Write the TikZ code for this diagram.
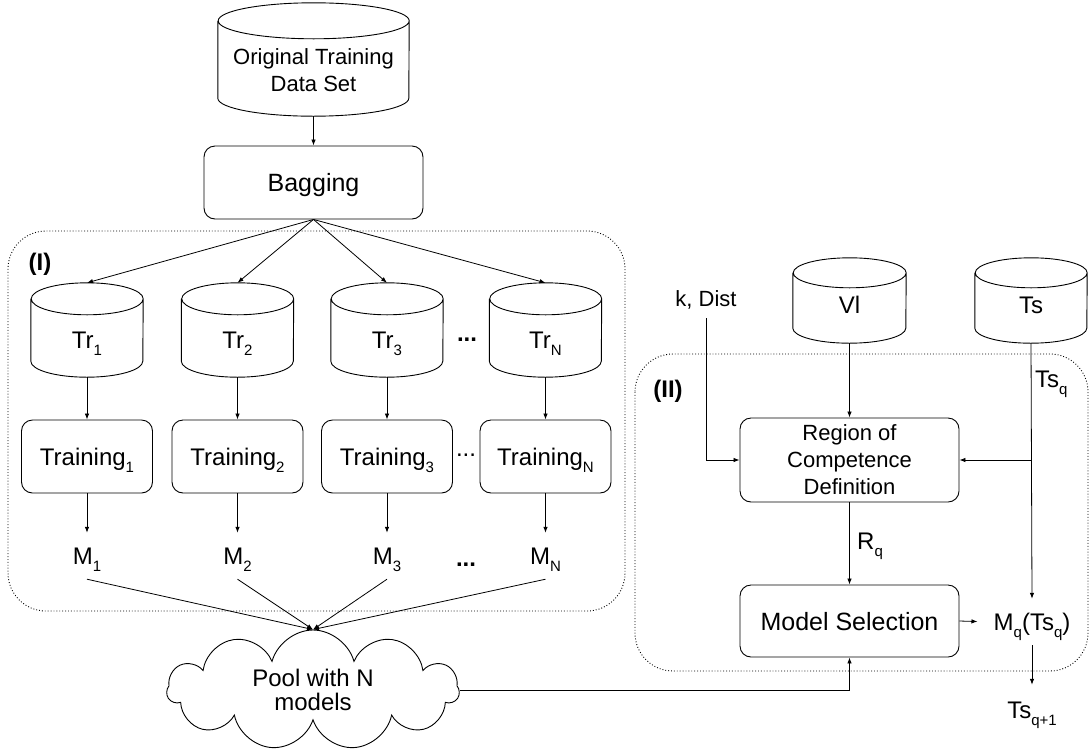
\documentclass[tikz,border=0pt]{standalone}
\usepackage{fontspec}
\setmainfont{Liberation Sans}
\usetikzlibrary{shapes.symbols,arrows.meta}

\newcommand{\lowidx}[1]{\raisebox{-7pt}{\fontsize{15}{15}\selectfont #1}}
\newcommand{\dbshape}[3]{%
	\draw [line width=0.9pt] ([yshift=-#3]#1.north west) -- ([yshift=#3]#1.south west)
		arc [start angle=180, end angle=360, x radius=#2, y radius=#3]
		-- ([yshift=-#3]#1.north east)
		arc [start angle=0, end angle=360, x radius=#2, y radius=#3];
}

\begin{document}
\begin{tikzpicture}[
	x=1pt, y=-1pt,
	every node/.style = {font=\fontsize{24}{27}\selectfont, inner sep=0pt,
		text depth=0pt},
	smallfont/.style = {font=\fontsize{22}{27}\selectfont},
	heading/.style = {font=\bfseries\fontsize{24}{28}\selectfont},
	process/.style = {draw, rounded corners=11pt, line width=0.9pt},
	flow/.style = {-{Latex[length=6pt,width=4.5pt]}, line width=0.8pt},
	group/.style = {dotted, line width=0.9pt, rounded corners=38pt},
	label/.style = {minimum height=46pt}
	]
	\useasboundingbox (0,0) rectangle (1089,753);
	
	\draw [group] (8,231) rectangle (625,611);
	\draw [group] (635,354) rectangle (1088,671);
	\node [heading] (groupI) at (40,262) {(I)};
	\node [heading] (groupII) at (668,389) {(II)};
	
	\node [minimum width=191pt, minimum height=113pt, smallfont, align=center,
		text height=63pt] (orig) at (313.5,59.5) {Original Training\\Data Set};
	\dbshape{orig}{95.5pt}{18pt}
	\node [process, font=\fontsize{25}{28}\selectfont, minimum width=219pt,
		minimum height=73pt] (bag) at (313.5,182.5) {Bagging};
	\draw [flow] (orig.south) -- (bag.north);
	
	\foreach \i/\x in {1/87, 2/237.5, 3/387, N/545.5} {
		\node [minimum width=112pt, minimum height=94pt, text height=36pt]
			(tr\i) at (\x,330) {Tr\lowidx{\i}};
		\dbshape{tr\i}{56pt}{16pt}
		\node [process, minimum width=131pt, minimum height=73pt]
			(train\i) at (\x,456.5) {Training\lowidx{\i}};
		\node [label] (m\i) at (\x,556) {M\lowidx{\i}};
		\draw [flow] (bag.south) -- (tr\i.north);
		\draw [flow] (tr\i.south) -- (train\i.north);
		\draw [flow] (train\i.south) -- (m\i.north);
	}
	\node [heading] (dotstr) at (467,340) {...};
	\node (dotstrain) at (466,455) {...};
	\node [heading] (dotsm) at (466,565) {...};
	
	\node [cloud, draw, cloud puffs=11, aspect=2.4, line width=0.9pt,
		minimum width=292pt, minimum height=120pt, align=center,
		font=\fontsize{24}{24}\selectfont] (pool) at (313,690) {Pool with N\\models};
	\foreach \i in {1,2,3,N}
		\draw [flow] (m\i.south) -- (pool.north);
	
	\node [smallfont, minimum height=38pt] (kdist) at (706,299) {k, Dist};
	\node [minimum width=113pt, minimum height=85pt, text height=25pt]
		(vl) at (849.5,300.5) {Vl};
	\dbshape{vl}{56.5pt}{15pt}
	\node [minimum width=112pt, minimum height=85pt, text height=25pt]
		(ts) at (1031,300.5) {Ts};
	\dbshape{ts}{56pt}{15pt}
	\node [process, smallfont, minimum width=219pt, minimum height=84pt,
		align=center] (roc) at (849.5,460) {Region of\\Competence\\Definition};
	\node [process, font=\fontsize{25}{28}\selectfont, minimum width=219pt,
		minimum height=72pt] (ms) at (849.5,621) {Model Selection};
	\node [label] (mq) at (1032,622) {M\lowidx{q}(Ts\lowidx{q})};
	\node [minimum height=50pt] (tsnext) at (1032,710) {Ts\lowidx{q+1}};
	\node [anchor=west] (tsq) at (1035,379) {Ts\lowidx{q}};
	\node [anchor=west] (rq) at (857,541) {R\lowidx{q}};
	
	\draw [flow] (kdist.south) |- (roc.west);
	\draw [flow] (vl.south) -- (roc.north);
	\draw [flow] (ts.south) -- (mq.north);
	\draw [flow] (ts.south |- roc.east) -- (roc.east);
	\draw [flow] (roc.south) -- (ms.north);
	\draw [flow, shorten >=16pt] (ms.east) -- (mq.west);
	\draw [flow] (mq.south) -- (tsnext.north);
	\draw [flow] (pool.east) -| (ms.south);
\end{tikzpicture}
\end{document}
